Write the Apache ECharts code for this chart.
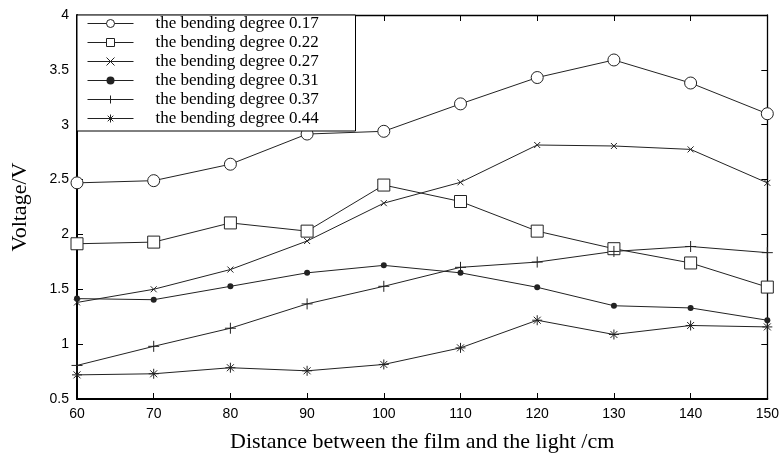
<!DOCTYPE html>
<html style="height: 100%">

<head>
  <meta charset="utf-8">
</head>

<body style="height: 100%; margin: 0; background: #fff">
  <div id="container" style="width: 782px; height: 466px"></div>
  <script type="text/javascript" src="https://cdn.jsdelivr.net/npm/echarts@6/dist/echarts.min.js"></script>
  <script type="text/javascript">
    // distance (cm) and voltage (V) per bending degree
    var distance = [60, 70, 80, 90, 100, 110, 120, 130, 140, 150];
    var names = ['the bending degree 0.17', 'the bending degree 0.22', 'the bending degree 0.27',
      'the bending degree 0.31', 'the bending degree 0.37', 'the bending degree 0.44'];
    var v017 = [2.47, 2.49, 2.64, 2.915, 2.94, 3.19, 3.43, 3.59, 3.38, 3.10];
    var v022 = [1.915, 1.93, 2.105, 2.03, 2.45, 2.30, 2.03, 1.87, 1.74, 1.52];
    var v027 = [1.38, 1.50, 1.68, 1.94, 2.285, 2.475, 2.815, 2.806, 2.775, 2.47];
    var v031 = [1.415, 1.405, 1.527, 1.65, 1.718, 1.65, 1.518, 1.35, 1.33, 1.218];
    var v037 = [0.806, 0.98, 1.145, 1.367, 1.527, 1.70, 1.748, 1.845, 1.89, 1.834];
    var v044 = [0.72, 0.73, 0.785, 0.757, 0.815, 0.966, 1.218, 1.088, 1.17, 1.157];

    var dom = document.getElementById("container");
    var myChart = echarts.init(dom);

    var ink = '#222';
    var hollow = { color: '#fff', borderColor: ink, borderWidth: 1 };

    function pairs(vals) {
      return distance.map(function (d, i) { return [d, vals[i]]; });
    }

    function line(name, vals, symbol, size, itemStyle) {
      return {
        name: name,
        type: 'line',
        data: pairs(vals),
        symbol: symbol,
        symbolSize: size,
        showAllSymbol: true,
        lineStyle: { color: ink, width: 1 },
        itemStyle: itemStyle,
        emphasis: { disabled: true },
        animation: false
      };
    }

    var tickLabel = { color: '#000', fontFamily: 'Liberation Sans', fontSize: 14 };

    var option = {
      backgroundColor: '#fff',
      grid: { left: 77, right: 13, top: 15, bottom: 67 },
      legend: {
        orient: 'vertical',
        left: 77,
        top: 15,
        padding: [0, 10, 4, 10],
        itemGap: 2,
        itemWidth: 46,
        itemHeight: 10,
        borderColor: '#000',
        borderWidth: 1,
        backgroundColor: '#fff',
        lineStyle: { width: 1 },
        itemStyle: { borderWidth: 1 },
        textStyle: {
          fontFamily: 'Liberation Serif',
          fontSize: 17,
          lineHeight: 10,
          color: '#000',
          width: 190,
          overflow: 'truncate',
          padding: [0, 0, 0, 17]
        },
        data: names
      },
      xAxis: [{
        type: 'value',
        min: 60,
        max: 150,
        interval: 10,
        name: 'Distance between the film and the light /cm',
        nameLocation: 'middle',
        nameGap: 32,
        nameTextStyle: { fontFamily: 'Liberation Serif', fontSize: 22, color: '#000' },
        axisLine: { lineStyle: { color: '#000', width: 2 } },
        axisTick: { inside: true, length: 6, lineStyle: { color: '#000' } },
        axisLabel: tickLabel,
        splitLine: { show: false }
      }, {
        type: 'value',
        position: 'top',
        min: 60,
        max: 150,
        interval: 10,
        axisLine: { lineStyle: { color: '#000', width: 1.3 } },
        axisTick: { inside: true, length: 6, lineStyle: { color: '#000' } },
        axisLabel: { show: false },
        splitLine: { show: false }
      }],
      yAxis: [{
        type: 'value',
        min: 0.5,
        max: 4,
        interval: 0.5,
        name: 'Voltage/V',
        nameLocation: 'middle',
        nameGap: 46,
        nameTextStyle: { fontFamily: 'Liberation Serif', fontSize: 22, color: '#000' },
        axisLine: { show: true, lineStyle: { color: '#000', width: 2 } },
        axisTick: { show: true, inside: true, length: 6, lineStyle: { color: '#000' } },
        axisLabel: tickLabel,
        splitLine: { show: false }
      }, {
        type: 'value',
        position: 'right',
        min: 0.5,
        max: 4,
        interval: 0.5,
        axisLine: { show: true, lineStyle: { color: '#000', width: 1.3 } },
        axisTick: { show: true, inside: true, length: 6, lineStyle: { color: '#000' } },
        axisLabel: { show: false },
        splitLine: { show: false }
      }],
      series: [
        line(names[0], v017, 'circle', 12, hollow),
        line(names[1], v022, 'rect', 12, hollow),
        line(names[2], v027, 'path://M0,0L10,10M10,0L0,10', 6, hollow),
        line(names[3], v031, 'circle', 6, { color: ink, borderWidth: 0 }),
        line(names[4], v037, 'path://M5,0L5,10M0,5L10,5', 11, hollow),
        line(names[5], v044, 'path://M5,0L5,10M0,5L10,5M1.5,1.5L8.5,8.5M8.5,1.5L1.5,8.5', 10, hollow)
      ]
    };

    myChart.setOption(option);
  </script>
</body>

</html>
